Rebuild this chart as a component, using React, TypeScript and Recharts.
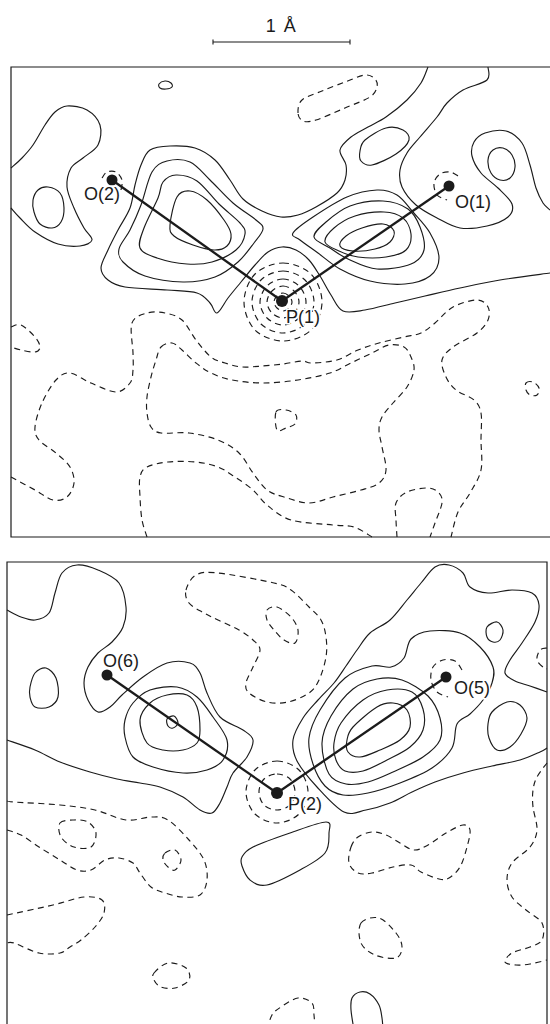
import { ComposedChart, Line, Scatter, XAxis, YAxis } from 'recharts';

type Pt = [number, number];
type Contour = { id: string; pts: Pt[]; dashed?: boolean; closed?: boolean };

const INK = '#1b1b1b';
const FONT = '"Liberation Sans", Arial, Helvetica, sans-serif';

// Map units: origin at the top-left corner of each frame, y grows downward.

/* ---------------- upper section: P(1), O(1), O(2) ---------------- */

const upperFrame: Pt[] = [[539, 0], [0, 0], [0, 470], [539, 470]];
const scaleBar: Pt[] = [[202, -25], [339, -25]];
const scaleTickL: Pt[] = [[202, -27.5], [202, -22.5]];
const scaleTickR: Pt[] = [[339, -27.5], [339, -22.5]];
const captions = [{ x: 270.5, y: -35, text: '1 Å' }];

const upperAtoms = [
  { name: 'O(2)', x: 101, y: 113 },
  { name: 'O(1)', x: 438, y: 119 },
  { name: 'P(1)', x: 271, y: 234 },
];

// positive levels (solid)
const upperOuter: Pt[] = [
  [417, 0], [410, 16], [396, 33], [375, 50], [357, 60], [340, 70], [329, 83], [335, 98], [334, 113],
  [326, 126], [305, 140], [287, 148], [270, 150], [251, 144], [232, 132], [219, 113], [204, 93],
  [184, 81], [159, 79], [139, 83], [130, 98], [124, 118], [119, 141], [107, 163], [97, 183], [90, 201],
  [97, 213], [114, 220], [156, 223], [186, 226], [199, 236], [206, 246], [217, 231], [230, 215],
  [244, 198], [257, 185], [271, 180], [285, 183], [298, 193], [309, 209], [320, 228], [332, 244],
  [354, 243], [384, 236], [414, 229], [449, 221], [489, 213], [539, 206],
];
const upperBump: Pt[] = [
  [0, 101], [11, 91], [22, 78], [34, 58], [44, 45], [56, 39], [76, 43], [89, 58], [87, 78], [72, 91],
  [60, 101], [56, 120], [63, 141], [73, 161], [81, 173], [69, 179], [47, 177], [24, 165], [9, 151], [0, 141],
];
const upperLeftPeak: Pt[] = [[22, 133], [27, 123], [37, 120], [49, 126], [53, 141], [50, 155], [41, 161], [29, 157], [23, 145]];
const upperDot: Pt[] = [[148, 17], [154, 14], [160, 16], [161, 20], [155, 22], [149, 21]];
const upperLeftLobe1: Pt[] = [
  [130, 138], [141, 105], [156, 94], [179, 95], [199, 113], [222, 136], [245, 153], [252, 162],
  [243, 176], [227, 195], [204, 210], [172, 215], [134, 209], [112, 195], [108, 182], [119, 163],
];
const upperLeftLobe2: Pt[] = [
  [147, 131], [152, 115], [165, 108], [186, 114], [208, 137], [229, 156], [234, 167], [225, 183],
  [201, 195], [176, 197], [146, 191], [129, 181], [133, 161],
];
const upperLeftLobe3: Pt[] = [
  [159, 158], [166, 130], [179, 124], [196, 133], [213, 153], [220, 167], [216, 179], [203, 183], [182, 178], [163, 169],
];
// runs from the top edge, under O(1) and round its peak, out to the right edge
const upperO1Ridge: Pt[] = [
  [477, 0], [476, 13], [452, 23], [436, 36], [426, 50], [409, 70], [396, 86], [389, 103], [391, 120],
  [405, 138], [426, 151], [449, 161], [476, 159], [497, 150], [501, 137], [487, 121], [470, 106],
  [461, 89], [463, 75], [474, 66], [495, 64], [511, 76], [519, 98], [525, 121], [532, 136], [539, 143],
];
const upperRightLobe1: Pt[] = [
  [282, 166], [302, 150], [336, 130], [366, 123], [386, 128], [402, 145], [419, 166], [428, 191],
  [419, 209], [394, 217], [359, 214], [329, 202], [307, 186], [289, 173],
];
const upperRightLobe2: Pt[] = [
  [303, 170], [315, 155], [339, 139], [372, 134], [397, 142], [409, 160], [413, 183], [400, 197], [366, 202], [337, 192], [319, 181],
];
const upperRightLobe3: Pt[] = [
  [314, 175], [323, 161], [344, 149], [373, 145], [392, 151], [400, 167], [395, 183], [375, 190], [347, 190], [328, 184],
];
const upperRightLobe4: Pt[] = [[329, 179], [335, 169], [351, 161], [372, 157], [383, 164], [379, 175], [364, 182], [342, 184]];
const upperSaddleLoop: Pt[] = [[349, 84], [354, 73], [375, 61], [392, 63], [398, 73], [385, 87], [361, 98], [350, 94]];
const upperO1Peak: Pt[] = [[477, 93], [482, 83], [492, 81], [501, 88], [504, 100], [499, 111], [489, 113], [480, 106]];

// negative levels (dashed)
const upperNegTop: Pt[] = [[287, 46], [291, 33], [311, 24], [334, 15], [354, 8], [364, 12], [366, 20], [359, 30], [334, 41], [305, 53], [292, 54]];
const upperO2Hole: Pt[] = [[110, 123], [111, 113], [105, 105], [96, 105], [91, 111]];
const upperO1Hole: Pt[] = [[447, 109], [439, 105], [429, 107], [423, 116], [426, 128], [436, 133]];
const upperPHole1: Pt[] = [[272, 196], [300, 207], [311, 235], [300, 263], [272, 274], [244, 263], [233, 235], [244, 207]];
const upperPHole2: Pt[] = [[272, 204], [294, 213], [303, 235], [294, 257], [272, 266], [250, 257], [241, 235], [250, 213]];
const upperPHole3: Pt[] = [[272, 212], [288, 219], [295, 235], [288, 251], [272, 258], [256, 251], [249, 235], [256, 219]];
const upperPHole4: Pt[] = [[272, 219], [283, 224], [288, 235], [283, 246], [272, 251], [261, 246], [256, 235], [261, 224]];
const upperPHole5: Pt[] = [[272, 226], [278, 229], [281, 235], [278, 241], [272, 244], [266, 241], [263, 235], [266, 229]];
const upperNeg1: Pt[] = [
  [0, 410], [24, 423], [42, 433], [56, 430], [63, 416], [59, 400], [45, 386], [28, 373], [24, 360], [31, 336],
  [45, 313], [59, 306], [80, 316], [105, 325], [119, 316], [122, 303], [122, 286], [121, 256], [136, 246],
  [154, 246], [171, 253], [185, 273], [200, 290], [214, 296], [231, 300], [251, 299], [272, 297], [291, 294],
  [301, 296], [326, 293], [347, 283], [368, 276], [393, 270], [410, 266], [424, 256], [442, 240], [466, 233],
  [477, 240], [477, 253], [466, 266], [442, 280], [431, 293], [435, 310], [445, 323], [463, 333], [470, 346],
  [470, 373], [470, 403], [459, 426], [447, 445], [440, 470],
];
const upperNeg2: Pt[] = [
  [150, 280], [161, 276], [171, 283], [185, 296], [200, 306], [221, 313], [252, 316], [287, 313], [319, 306],
  [340, 296], [361, 286], [378, 278], [393, 280], [400, 290], [403, 303], [396, 320], [382, 336], [371, 350],
  [368, 363], [371, 380], [375, 403], [368, 416], [350, 423], [322, 430], [298, 436], [273, 430], [256, 423],
  [242, 406], [228, 386], [207, 373], [178, 366], [150, 366], [140, 360], [136, 346], [136, 330], [140, 310], [145, 293],
];
const upperNeg3: Pt[] = [[265, 345], [275, 343], [285, 348], [284, 357], [275, 361], [266, 363]];
const upperNeg4: Pt[] = [
  [136, 470], [131, 453], [129, 430], [129, 410], [136, 400], [157, 395], [185, 395], [207, 400], [224, 410],
  [242, 423], [256, 438], [280, 453], [322, 458], [343, 460], [361, 470],
];
const upperNeg5: Pt[] = [[386, 470], [385, 453], [385, 436], [396, 425], [417, 421], [428, 426], [431, 436], [424, 456], [419, 470]];
const upperNegEdge: Pt[] = [[0, 260], [10, 258], [24, 270], [29, 280], [24, 285], [10, 283], [0, 280]];
const upperNegSpeck: Pt[] = [[515, 316], [522, 315], [528, 321], [526, 328], [519, 328], [515, 323]];

/* ---------------- lower section: P(2), O(5), O(6) ---------------- */

const lowerFrame: Pt[] = [[0, 470], [0, 0], [540, 0], [540, 470]];

const lowerAtoms = [
  { name: 'O(6)', x: 100, y: 113 },
  { name: 'O(5)', x: 439, y: 115 },
  { name: 'P(2)', x: 270, y: 231 },
];

const lowerOuterLeft: Pt[] = [
  [0, 48], [14, 55], [28, 58], [42, 51], [48, 31], [55, 11], [70, 3], [91, 8], [112, 21], [119, 45], [116, 65],
  [105, 80], [91, 91], [81, 105], [77, 121], [81, 138], [91, 150], [103, 145], [115, 133], [136, 115],
  [160, 101], [183, 101], [193, 111], [200, 131], [213, 155], [236, 168], [246, 178], [240, 195], [226, 211],
  [220, 225], [213, 241], [205, 251], [193, 248], [176, 235], [153, 225], [133, 221], [110, 217], [83, 210],
  [53, 200], [28, 188], [0, 178],
];
const lowerLeftPeak: Pt[] = [[23, 125], [28, 111], [39, 106], [49, 116], [51, 135], [42, 145], [28, 145], [23, 135]];
const lowerLeftLobe1: Pt[] = [
  [118, 158], [126, 141], [143, 128], [170, 125], [190, 135], [206, 155], [220, 178], [216, 198], [200, 208],
  [176, 211], [146, 205], [126, 195], [118, 175],
];
const lowerLeftLobe2: Pt[] = [[133, 158], [143, 141], [160, 133], [180, 133], [190, 145], [193, 168], [190, 181], [176, 188], [156, 188], [140, 181]];
const lowerLeftSpeck: Pt[] = [[160, 157], [167, 154], [171, 161], [166, 166], [161, 164]];
const lowerOuterRight: Pt[] = [
  [540, 130], [523, 124], [508, 119], [498, 111], [503, 98], [515, 81], [528, 60], [532, 43], [525, 31],
  [505, 28], [481, 31], [463, 25], [456, 11], [442, 3], [428, 5], [414, 21], [400, 38], [383, 58], [363, 71],
  [350, 88], [339, 104], [327, 121], [311, 138], [296, 156], [286, 178], [290, 199], [310, 225], [337, 250],
  [359, 248], [383, 241], [405, 230], [428, 220], [456, 211], [485, 204], [513, 198], [533, 190], [540, 186],
];
const lowerRightLobe1: Pt[] = [
  [302, 176], [313, 148], [338, 116], [365, 104], [384, 105], [397, 96], [404, 77], [423, 69], [453, 71],
  [473, 85], [486, 105], [485, 121], [476, 138], [463, 152], [450, 162], [445, 186], [425, 206], [393, 221],
  [361, 231], [336, 233], [318, 224], [306, 202],
];
const lowerRightLobe2: Pt[] = [
  [315, 181], [324, 154], [346, 127], [370, 117], [395, 118], [421, 134], [433, 156], [433, 178], [416, 195],
  [386, 210], [361, 220], [339, 222], [322, 212],
];
const lowerRightLobe3: Pt[] = [
  [327, 181], [334, 161], [356, 138], [380, 128], [405, 130], [416, 147], [416, 168], [403, 185], [380, 198],
  [356, 209], [338, 209], [329, 198],
];
const lowerRightLobe4: Pt[] = [[340, 178], [346, 165], [370, 145], [386, 141], [400, 148], [403, 165], [393, 178], [373, 188], [353, 195], [341, 190]];
const lowerRightPeak: Pt[] = [[480, 65], [490, 60], [496, 68], [493, 78], [486, 80], [480, 75]];
const lowerRightLoop: Pt[] = [[485, 150], [500, 140], [513, 143], [520, 156], [514, 172], [503, 185], [490, 188], [482, 176], [481, 162]];
const lowerBlob: Pt[] = [[235, 295], [246, 285], [283, 271], [319, 260], [322, 271], [318, 291], [293, 308], [260, 323], [243, 318], [235, 304]];
const lowerBottomArc: Pt[] = [[347, 468], [344, 448], [345, 436], [353, 430], [363, 432], [372, 443], [375, 456], [376, 468]];

const lowerNegTop: Pt[] = [
  [179, 28], [189, 13], [211, 11], [267, 21], [284, 28], [302, 45], [314, 58], [319, 75], [319, 95], [312, 118],
  [302, 131], [281, 140], [260, 140], [242, 131], [239, 121], [246, 105], [253, 88], [246, 78], [232, 68],
  [211, 58], [197, 51], [182, 41],
];
const lowerNegTopInner: Pt[] = [[260, 48], [270, 45], [284, 55], [291, 68], [288, 81], [277, 78], [267, 68], [260, 58]];
const lowerO5Hole: Pt[] = [[455, 108], [448, 99], [436, 98], [426, 105], [424, 118], [430, 130], [441, 135]];
const lowerPHole1: Pt[] = [[270, 199], [292, 208], [301, 230], [292, 252], [270, 261], [248, 252], [239, 230], [248, 208]];
const lowerPHole2: Pt[] = [[270, 212], [283, 217], [288, 230], [283, 243], [270, 248], [257, 243], [252, 230], [257, 217]];
const lowerNeg1: Pt[] = [
  [0, 239], [7, 240], [53, 243], [88, 248], [119, 258], [144, 255], [161, 258], [182, 278], [197, 298],
  [200, 318], [193, 333], [175, 335], [158, 331], [144, 325], [133, 311], [126, 301], [112, 296], [98, 298],
  [84, 308], [70, 308], [53, 298], [32, 285], [14, 273], [0, 268],
];
const lowerNeg1Inner: Pt[] = [[53, 261], [67, 258], [81, 260], [89, 271], [84, 285], [67, 285], [54, 275]];
const lowerNeg1Speck: Pt[] = [[158, 291], [168, 288], [174, 298], [168, 308], [161, 305], [156, 298]];
const lowerNeg2: Pt[] = [[0, 353], [46, 343], [77, 335], [95, 338], [97, 351], [88, 365], [74, 378], [63, 385], [53, 391], [32, 391], [7, 381], [0, 381]];
const lowerNeg3: Pt[] = [[147, 411], [161, 401], [179, 406], [182, 418], [168, 426], [154, 425], [147, 418]];
const lowerNeg4: Pt[] = [[260, 468], [265, 453], [274, 445], [291, 436], [305, 441], [307, 453], [308, 468]];
const lowerNegBowtie: Pt[] = [
  [344, 285], [351, 275], [365, 270], [379, 273], [393, 281], [407, 288], [421, 283], [439, 271], [456, 263],
  [463, 268], [460, 285], [453, 305], [442, 316], [432, 317], [414, 310], [404, 303], [386, 305], [365, 311],
  [351, 311], [342, 301],
];
const lowerNeg5: Pt[] = [[354, 361], [372, 356], [389, 371], [395, 385], [389, 396], [368, 393], [354, 381]];
const lowerNegRight: Pt[] = [
  [540, 201], [530, 215], [526, 228], [526, 245], [530, 268], [523, 285], [505, 301], [500, 318], [505, 335],
  [519, 348], [535, 361], [535, 378], [523, 385], [505, 391], [498, 400], [509, 403], [523, 402], [540, 398],
];
const lowerNegEdge: Pt[] = [[540, 86], [533, 88], [530, 98], [537, 106], [540, 107]];

/* ---------------- drawing tables ---------------- */

const upperContours: Contour[] = [
  { id: 'u-outer', pts: upperOuter },
  { id: 'u-bump', pts: upperBump },
  { id: 'u-left-peak', pts: upperLeftPeak, closed: true },
  { id: 'u-dot', pts: upperDot, closed: true },
  { id: 'u-l1', pts: upperLeftLobe1, closed: true },
  { id: 'u-l2', pts: upperLeftLobe2, closed: true },
  { id: 'u-l3', pts: upperLeftLobe3, closed: true },
  { id: 'u-o1-ridge', pts: upperO1Ridge },
  { id: 'u-r1', pts: upperRightLobe1, closed: true },
  { id: 'u-r2', pts: upperRightLobe2, closed: true },
  { id: 'u-r3', pts: upperRightLobe3, closed: true },
  { id: 'u-r4', pts: upperRightLobe4, closed: true },
  { id: 'u-saddle', pts: upperSaddleLoop, closed: true },
  { id: 'u-o1-peak', pts: upperO1Peak, closed: true },
  { id: 'u-neg-top', pts: upperNegTop, dashed: true, closed: true },
  { id: 'u-o2-hole', pts: upperO2Hole, dashed: true },
  { id: 'u-o1-hole', pts: upperO1Hole, dashed: true },
  { id: 'u-p1', pts: upperPHole1, dashed: true, closed: true },
  { id: 'u-p2', pts: upperPHole2, dashed: true, closed: true },
  { id: 'u-p3', pts: upperPHole3, dashed: true, closed: true },
  { id: 'u-p4', pts: upperPHole4, dashed: true, closed: true },
  { id: 'u-p5', pts: upperPHole5, dashed: true, closed: true },
  { id: 'u-neg1', pts: upperNeg1, dashed: true },
  { id: 'u-neg2', pts: upperNeg2, dashed: true, closed: true },
  { id: 'u-neg3', pts: upperNeg3, dashed: true, closed: true },
  { id: 'u-neg4', pts: upperNeg4, dashed: true },
  { id: 'u-neg5', pts: upperNeg5, dashed: true },
  { id: 'u-neg-edge', pts: upperNegEdge, dashed: true },
  { id: 'u-neg-speck', pts: upperNegSpeck, dashed: true, closed: true },
];

const lowerContours: Contour[] = [
  { id: 'l-outer-left', pts: lowerOuterLeft },
  { id: 'l-left-peak', pts: lowerLeftPeak, closed: true },
  { id: 'l-l1', pts: lowerLeftLobe1, closed: true },
  { id: 'l-l2', pts: lowerLeftLobe2, closed: true },
  { id: 'l-l3', pts: lowerLeftSpeck, closed: true },
  { id: 'l-outer-right', pts: lowerOuterRight },
  { id: 'l-r1', pts: lowerRightLobe1, closed: true },
  { id: 'l-r2', pts: lowerRightLobe2, closed: true },
  { id: 'l-r3', pts: lowerRightLobe3, closed: true },
  { id: 'l-r4', pts: lowerRightLobe4, closed: true },
  { id: 'l-right-peak', pts: lowerRightPeak, closed: true },
  { id: 'l-right-loop', pts: lowerRightLoop, closed: true },
  { id: 'l-blob', pts: lowerBlob, closed: true },
  { id: 'l-bottom-arc', pts: lowerBottomArc },
  { id: 'l-neg-top', pts: lowerNegTop, dashed: true, closed: true },
  { id: 'l-neg-top-in', pts: lowerNegTopInner, dashed: true, closed: true },
  { id: 'l-o5-hole', pts: lowerO5Hole, dashed: true },
  { id: 'l-p1', pts: lowerPHole1, dashed: true, closed: true },
  { id: 'l-p2', pts: lowerPHole2, dashed: true, closed: true },
  { id: 'l-neg1', pts: lowerNeg1, dashed: true },
  { id: 'l-neg1-in', pts: lowerNeg1Inner, dashed: true, closed: true },
  { id: 'l-neg1-speck', pts: lowerNeg1Speck, dashed: true, closed: true },
  { id: 'l-neg2', pts: lowerNeg2, dashed: true },
  { id: 'l-neg3', pts: lowerNeg3, dashed: true, closed: true },
  { id: 'l-neg4', pts: lowerNeg4, dashed: true },
  { id: 'l-bowtie', pts: lowerNegBowtie, dashed: true, closed: true },
  { id: 'l-neg5', pts: lowerNeg5, dashed: true, closed: true },
  { id: 'l-neg-right', pts: lowerNegRight, dashed: true },
  { id: 'l-neg-edge', pts: lowerNegEdge, dashed: true },
];

// label placement next to each atom, in screen pixels
const labelOffset: Record<string, [number, number]> = {
  'O(2)': [-28, 20],
  'O(1)': [6, 22],
  'P(1)': [4, 22],
  'O(6)': [-4, -8],
  'O(5)': [8, 17],
  'P(2)': [11, 17],
};

/* ---------------- helpers ---------------- */

function catmullRom(closed: boolean) {
  return (ctx: any) => {
    let pts: number[][] = [];
    return {
      areaStart() {},
      areaEnd() {},
      lineStart() {
        pts = [];
      },
      point(x: number, y: number) {
        pts.push([+x, +y]);
      },
      lineEnd() {
        const n = pts.length;
        if (!n) return;
        ctx.moveTo(pts[0][0], pts[0][1]);
        if (n < 3) {
          for (let i = 1; i < n; i++) ctx.lineTo(pts[i][0], pts[i][1]);
          return;
        }
        const at = (i: number) => (closed ? pts[(i + n) % n] : pts[Math.max(0, Math.min(n - 1, i))]);
        const segs = closed ? n : n - 1;
        for (let i = 0; i < segs; i++) {
          const p0 = at(i - 1);
          const p1 = at(i);
          const p2 = at(i + 1);
          const p3 = at(i + 2);
          ctx.bezierCurveTo(
            p1[0] + (p2[0] - p0[0]) / 6,
            p1[1] + (p2[1] - p0[1]) / 6,
            p2[0] - (p3[0] - p1[0]) / 6,
            p2[1] - (p3[1] - p1[1]) / 6,
            p2[0],
            p2[1],
          );
        }
        if (closed) ctx.closePath();
      },
    };
  };
}
const closedSpline = catmullRom(true);
const openSpline = catmullRom(false);

const rows = (pts: Pt[]) => pts.map(([x, y]) => ({ x, y }));

function contourLines(list: Contour[]) {
  return list.map((c) => (
    <Line
      key={c.id}
      data={rows(c.pts)}
      dataKey="y"
      type={(c.closed ? closedSpline : openSpline) as any}
      stroke={INK}
      strokeWidth={1.15}
      strokeDasharray={c.dashed ? '6 4.5' : undefined}
      dot={false}
      activeDot={false}
      legendType="none"
      isAnimationActive={false}
    />
  ));
}

function straight(id: string, pts: Pt[], width: number) {
  return (
    <Line
      key={id}
      data={rows(pts)}
      dataKey="y"
      type="linear"
      stroke={INK}
      strokeWidth={width}
      dot={false}
      activeDot={false}
      legendType="none"
      isAnimationActive={false}
    />
  );
}

function AtomMark(props: any) {
  const { cx, cy, payload } = props;
  const [dx, dy] = labelOffset[payload.name];
  return (
    <g>
      <circle cx={cx} cy={cy} r={payload.name.startsWith('P') ? 6 : 5.5} fill={INK} />
      <text
        x={cx + dx}
        y={cy + dy}
        fontSize={18}
        fontFamily={FONT}
        fill={INK}
        stroke="#fff"
        strokeWidth={3}
        paintOrder="stroke"
      >
        {payload.name}
      </text>
    </g>
  );
}

function Caption(props: any) {
  const { cx, cy, payload } = props;
  return (
    <text x={cx} y={cy} textAnchor="middle" fontSize={18} letterSpacing={1.5} fontFamily={FONT} fill={INK}>
      {payload.text}
    </text>
  );
}

function bondsOf(atoms: { name: string; x: number; y: number }[]): Pt[][] {
  const p = atoms.find((a) => a.name.startsWith('P'))!;
  return atoms.filter((a) => a !== p).map((o) => [[o.x, o.y], [p.x, p.y]] as Pt[]);
}

const margin = { top: 0, right: 0, bottom: 0, left: 0 };

export default function App() {
  return (
    <div style={{ position: 'absolute', left: 0, top: 0, width: 550, height: 1024, background: '#fff' }}>
      <div style={{ position: 'absolute', left: 0, top: 0 }}>
        <ComposedChart width={550} height={550} margin={margin}>
          <XAxis type="number" dataKey="x" domain={[-11, 539]} allowDataOverflow hide />
          <YAxis type="number" dataKey="y" domain={[-67, 483]} allowDataOverflow reversed hide />
          {straight('u-frame', upperFrame, 1.2)}
          {straight('scale', scaleBar, 1.1)}
          {straight('scale-l', scaleTickL, 1.1)}
          {straight('scale-r', scaleTickR, 1.1)}
          {contourLines(upperContours)}
          {bondsOf(upperAtoms).map((b, i) => straight(`u-bond-${i}`, b, 2.3))}
          <Scatter data={upperAtoms} shape={AtomMark} isAnimationActive={false} legendType="none" />
          <Scatter data={captions} shape={Caption} isAnimationActive={false} legendType="none" />
        </ComposedChart>
      </div>
      <div style={{ position: 'absolute', left: 0, top: 550 }}>
        <ComposedChart width={550} height={474} margin={margin}>
          <XAxis type="number" dataKey="x" domain={[-7, 543]} allowDataOverflow hide />
          <YAxis type="number" dataKey="y" domain={[-12, 462]} allowDataOverflow reversed hide />
          {straight('l-frame', lowerFrame, 1.2)}
          {contourLines(lowerContours)}
          {bondsOf(lowerAtoms).map((b, i) => straight(`l-bond-${i}`, b, 2.3))}
          <Scatter data={lowerAtoms} shape={AtomMark} isAnimationActive={false} legendType="none" />
        </ComposedChart>
      </div>
    </div>
  );
}
